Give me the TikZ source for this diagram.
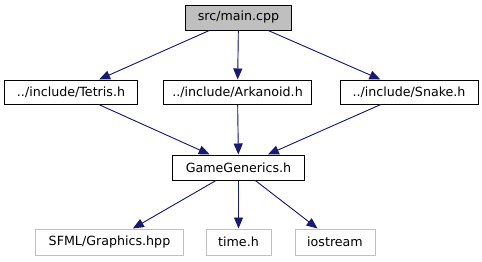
\documentclass[tikz,border=0pt]{standalone}
\usepackage{fontspec}
\setmainfont{DejaVu Sans}
\usetikzlibrary{arrows.meta}
\definecolor{edgeblue}{HTML}{191970}
\definecolor{boxgray}{HTML}{BFBFBF}
\tikzset{
	file/.style={draw=black, line width=1bp, fill=white, minimum height=24bp, inner sep=0pt, font=\fontsize{12.7}{15}\selectfont},
	mainfile/.style={file, fill=boxgray},
	extfile/.style={file, draw=boxgray},
	incl/.style={draw=edgeblue, line width=0.9bp, -{Triangle[length=11bp,width=9bp]}, fill=edgeblue}
}
\begin{document}
\begin{tikzpicture}[x=1bp,y=-1bp]
	\useasboundingbox (0,0) rectangle (482,261);
	%top
	\node[mainfile, minimum width=106bp, minimum height=25bp] (main) at (238.5,17.5) {src/main.cpp};
	%headers
	\node[file, minimum width=132bp] (tetris) at (71,92) {../include/Tetris.h};
	\node[file, minimum width=148bp] (arkanoid) at (237.5,92) {../include/Arkanoid.h};
	\node[file, minimum width=138bp] (snake) at (409,92) {../include/Snake.h};
	\node[file, minimum width=132bp, minimum height=25bp] (generics) at (238.5,167.5) {GameGenerics.h};
	%system
	\node[extfile, minimum width=147bp, minimum height=26bp] (sfml) at (109.5,242) {SFML/Graphics.hpp};
	\node[extfile, minimum width=65bp, minimum height=26bp] (time) at (238.5,242) {time.h};
	\node[extfile, minimum width=80bp, minimum height=26bp] (iostream) at (335,242) {iostream};

	\foreach \a/\b in {main/tetris, main/arkanoid, main/snake,
		tetris/generics, arkanoid/generics, snake/generics,
		generics/sfml, generics/time, generics/iostream} {
		\draw[incl] (\a) -- (\b);
	}
\end{tikzpicture}
\end{document}
